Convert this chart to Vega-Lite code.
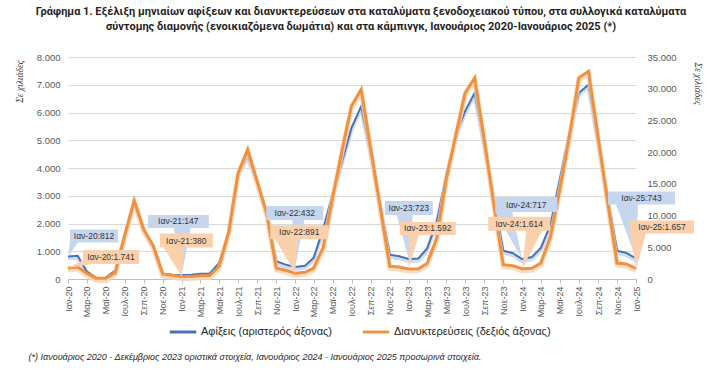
{
  "$schema": "https://vega.github.io/schema/vega-lite/v6.json",
  "width": 568,
  "height": 222,
  "autosize": {"type": "none"},
  "padding": {"left": 68, "top": 57, "right": 87, "bottom": 91},
  "background": "white",
  "title": {
    "text": [
      "Γράφημα 1. Εξέλιξη μηνιαίων αφίξεων και διανυκτερεύσεων στα καταλύματα ξενοδοχειακού τύπου, στα συλλογικά καταλύματα",
      "σύντομης διαμονής (ενοικιαζόμενα δωμάτια) και στα κάμπινγκ, Ιανουάριος 2020-Ιανουάριος 2025 (*)"
    ],
    "anchor": "middle",
    "frame": "group",
    "dx": 9,
    "offset": 20,
    "font": "Roboto",
    "fontSize": 11,
    "fontWeight": "bold",
    "color": "#1f1f1f",
    "lineHeight": 15
  },
  "datasets": {
    "monthly": [
      {"date": "2020-01-01", "arrivals": 812, "stays": 1741},
      {"date": "2020-02-01", "arrivals": 840, "stays": 1890},
      {"date": "2020-03-01", "arrivals": 276, "stays": 900},
      {"date": "2020-04-01", "arrivals": 40, "stays": 130},
      {"date": "2020-05-01", "arrivals": 40, "stays": 100},
      {"date": "2020-06-01", "arrivals": 300, "stays": 1000},
      {"date": "2020-07-01", "arrivals": 1560, "stays": 6800},
      {"date": "2020-08-01", "arrivals": 2780, "stays": 12350},
      {"date": "2020-09-01", "arrivals": 1780, "stays": 7780},
      {"date": "2020-10-01", "arrivals": 1200, "stays": 5250},
      {"date": "2020-11-01", "arrivals": 190, "stays": 800},
      {"date": "2020-12-01", "arrivals": 150, "stays": 600},
      {"date": "2021-01-01", "arrivals": 147, "stays": 380},
      {"date": "2021-02-01", "arrivals": 150, "stays": 380},
      {"date": "2021-03-01", "arrivals": 190, "stays": 520},
      {"date": "2021-04-01", "arrivals": 200, "stays": 540},
      {"date": "2021-05-01", "arrivals": 580, "stays": 2000},
      {"date": "2021-06-01", "arrivals": 1720, "stays": 7400},
      {"date": "2021-07-01", "arrivals": 3800, "stays": 16700},
      {"date": "2021-08-01", "arrivals": 4420, "stays": 20400},
      {"date": "2021-09-01", "arrivals": 3500, "stays": 15300},
      {"date": "2021-10-01", "arrivals": 2380, "stays": 10400},
      {"date": "2021-11-01", "arrivals": 640, "stays": 1730},
      {"date": "2021-12-01", "arrivals": 517, "stays": 1370},
      {"date": "2022-01-01", "arrivals": 432, "stays": 891},
      {"date": "2022-02-01", "arrivals": 480, "stays": 1050},
      {"date": "2022-03-01", "arrivals": 757, "stays": 1730},
      {"date": "2022-04-01", "arrivals": 1800, "stays": 5000},
      {"date": "2022-05-01", "arrivals": 3040, "stays": 12800},
      {"date": "2022-06-01", "arrivals": 4250, "stays": 20400},
      {"date": "2022-07-01", "arrivals": 5450, "stays": 27300},
      {"date": "2022-08-01", "arrivals": 6220, "stays": 29850},
      {"date": "2022-09-01", "arrivals": 4500, "stays": 20500},
      {"date": "2022-10-01", "arrivals": 2670, "stays": 11400},
      {"date": "2022-11-01", "arrivals": 877, "stays": 2000},
      {"date": "2022-12-01", "arrivals": 817, "stays": 1890},
      {"date": "2023-01-01", "arrivals": 723, "stays": 1592},
      {"date": "2023-02-01", "arrivals": 740, "stays": 1600},
      {"date": "2023-03-01", "arrivals": 1100, "stays": 2450},
      {"date": "2023-04-01", "arrivals": 2050, "stays": 6400},
      {"date": "2023-05-01", "arrivals": 3700, "stays": 15600},
      {"date": "2023-06-01", "arrivals": 5170, "stays": 22600},
      {"date": "2023-07-01", "arrivals": 6040, "stays": 29300},
      {"date": "2023-08-01", "arrivals": 6700, "stays": 31700},
      {"date": "2023-09-01", "arrivals": 4850, "stays": 22000},
      {"date": "2023-10-01", "arrivals": 2900, "stays": 12000},
      {"date": "2023-11-01", "arrivals": 1020, "stays": 2260},
      {"date": "2023-12-01", "arrivals": 937, "stays": 2100},
      {"date": "2024-01-01", "arrivals": 717, "stays": 1614},
      {"date": "2024-02-01", "arrivals": 790, "stays": 1680},
      {"date": "2024-03-01", "arrivals": 1120, "stays": 2520},
      {"date": "2024-04-01", "arrivals": 1950, "stays": 6700},
      {"date": "2024-05-01", "arrivals": 3580, "stays": 14100},
      {"date": "2024-06-01", "arrivals": 5260, "stays": 22500},
      {"date": "2024-07-01", "arrivals": 6700, "stays": 31700},
      {"date": "2024-08-01", "arrivals": 7000, "stays": 32740},
      {"date": "2024-09-01", "arrivals": 4960, "stays": 22440},
      {"date": "2024-10-01", "arrivals": 2990, "stays": 12450},
      {"date": "2024-11-01", "arrivals": 1020, "stays": 2520},
      {"date": "2024-12-01", "arrivals": 937, "stays": 2365},
      {"date": "2025-01-01", "arrivals": 743, "stays": 1657}
    ],
    "calloutsA": [
      {"date": "2020-01-01", "arrivals": 812, "label": "Ιαν-20:812"},
      {"date": "2021-01-01", "arrivals": 147, "label": "Ιαν-21:147"},
      {"date": "2022-01-01", "arrivals": 432, "label": "Ιαν-22:432"},
      {"date": "2023-01-01", "arrivals": 723, "label": "Ιαν-23:723"},
      {"date": "2024-01-01", "arrivals": 717, "label": "Ιαν-24:717"},
      {"date": "2025-01-01", "arrivals": 743, "label": "Ιαν-25:743"}
    ],
    "calloutsS": [
      {"date": "2020-01-01", "stays": 1741, "label": "Ιαν-20:1.741"},
      {"date": "2021-01-01", "stays": 380, "label": "Ιαν-21:380"},
      {"date": "2022-01-01", "stays": 891, "label": "Ιαν-22:891"},
      {"date": "2023-01-01", "stays": 1592, "label": "Ιαν-23:1.592"},
      {"date": "2024-01-01", "stays": 1614, "label": "Ιαν-24:1.614"},
      {"date": "2025-01-01", "stays": 1657, "label": "Ιαν-25:1.657"}
    ]
  },
  "data": {"name": "monthly"},
  "encoding": {
    "x": {
      "field": "date",
      "type": "temporal",
      "scale": {
        "type": "utc",
        "domain": [
          {"year": 2020, "month": 1, "date": 1, "utc": true},
          {"year": 2025, "month": 1, "date": 1, "utc": true}
        ],
        "nice": false
      },
      "axis": {
        "format": "%b-%y",
        "tickCount": {"interval": "month", "step": 2},
        "labelAngle": -90,
        "labelFont": "Liberation Sans",
        "labelFontSize": 9,
        "labelColor": "#595959",
        "labelPadding": 3,
        "labelFlush": false,
        "labelOverlap": false,
        "domainColor": "#bfbfbf",
        "tickColor": "#bfbfbf",
        "tickSize": 4,
        "grid": false,
        "title": "(*) Ιανουάριος 2020 - Δεκέμβριος 2023 οριστικά στοιχεία, Ιανουάριος 2024 - Ιανουάριος 2025 προσωρινά στοιχεία.",
        "titleFont": "Liberation Sans",
        "titleFontSize": 9,
        "titleFontStyle": "italic",
        "titleFontWeight": "normal",
        "titleColor": "#262626",
        "titleAnchor": "start",
        "titleAlign": "left",
        "titleBaseline": "alphabetic",
        "titleX": -40,
        "titleY": 80
      }
    }
  },
  "layer": [
    {
      "encoding": {
        "y": {
          "field": "arrivals",
          "type": "quantitative",
          "scale": {"domain": [0, 8000], "nice": false, "zero": true},
          "axis": {
            "orient": "left",
            "values": [0, 1000, 2000, 3000, 4000, 5000, 6000, 7000, 8000],
            "format": ",d",
            "grid": true,
            "gridColor": "#d9d9d9",
            "gridWidth": 1,
            "domain": false,
            "ticks": false,
            "labelPadding": 8,
            "labelFont": "Liberation Sans",
            "labelFontSize": 9.5,
            "labelColor": "#595959",
            "title": "Σε χιλιάδες",
            "titleFont": "Liberation Serif",
            "titleFontSize": 9.5,
            "titleFontStyle": "italic",
            "titleFontWeight": "normal",
            "titleColor": "#404040",
            "titleAngle": -90,
            "titleAlign": "right",
            "titleBaseline": "middle",
            "titleX": -49,
            "titleY": 3
          }
        }
      },
      "layer": [
        {
          "mark": {"type": "line", "color": "#c4d5ee", "strokeWidth": 4, "yOffset": 2, "opacity": 0.8}
        },
        {
          "mark": {"type": "line", "strokeWidth": 2},
          "encoding": {
            "color": {
              "datum": "Αφίξεις (αριστερός άξονας)",
              "type": "nominal",
              "scale": {
                "domain": ["Αφίξεις (αριστερός άξονας)", "Διανυκτερεύσεις (δεξιός άξονας)"],
                "range": ["#4a72b2", "#f0913f"]
              },
              "legend": {
                "orient": "none",
                "legendX": 100,
                "legendY": 260,
                "direction": "horizontal",
                "title": null,
                "symbolType": "stroke",
                "symbolSize": 700,
                "symbolStrokeWidth": 3,
                "labelFont": "Liberation Sans",
                "labelFontSize": 11,
                "labelColor": "#262626",
                "labelOffset": 3,
                "columnPadding": 24
              }
            }
          }
        }
      ]
    },
    {
      "encoding": {
        "y": {
          "field": "stays",
          "type": "quantitative",
          "scale": {"domain": [0, 35000], "nice": false, "zero": true},
          "axis": {
            "orient": "right",
            "values": [0, 5000, 10000, 15000, 20000, 25000, 30000, 35000],
            "format": ",d",
            "grid": false,
            "domain": false,
            "ticks": false,
            "labelPadding": 11,
            "labelFont": "Liberation Sans",
            "labelFontSize": 9.5,
            "labelColor": "#595959",
            "title": "Σε χιλιάδες",
            "titleFont": "Liberation Serif",
            "titleFontSize": 9.5,
            "titleFontStyle": "italic",
            "titleFontWeight": "normal",
            "titleColor": "#404040",
            "titleAngle": 90,
            "titleAlign": "left",
            "titleBaseline": "middle",
            "titleX": 61,
            "titleY": 5
          }
        }
      },
      "layer": [
        {
          "mark": {"type": "line", "color": "#fbd5b4", "strokeWidth": 5, "yOffset": 2, "opacity": 0.8}
        },
        {
          "mark": {"type": "line", "strokeWidth": 3},
          "encoding": {
            "color": {
              "datum": "Διανυκτερεύσεις (δεξιός άξονας)",
              "type": "nominal"
            }
          }
        }
      ]
    },
    {
      "data": {"name": "calloutsA"},
      "encoding": {
        "y": {
          "field": "arrivals",
          "type": "quantitative",
          "scale": {"domain": [0, 8000], "nice": false, "zero": true},
          "axis": null
        }
      },
      "layer": [
        {
          "mark": {"type": "point", "filled": true, "size": 4, "opacity": 1, "color": "#c5d6ee", "strokeWidth": 0},
          "encoding": {
            "shape": {
              "field": "label",
              "type": "nominal",
              "legend": null,
              "scale": {
                "domain": ["Ιαν-20:812", "Ιαν-21:147", "Ιαν-22:432", "Ιαν-23:723", "Ιαν-24:717", "Ιαν-25:743"],
                "range": [
                  "M2,-27H50V-14H10L0,0L2,-14Z",
                  "M-34,-60H27V-47H9L0,0L-8,-47H-34Z",
                  "M-29,-61H28V-47H9L0,0L-3,-47H-29Z",
                  "M-24,-58H24V-44H4L0,0L-12,-44H-24Z",
                  "M-27,-62H35V-47H-10L0,0L-27,-47Z",
                  "M-28,-67H39V-54H2L0,0L-20,-54H-28Z"
                ]
              }
            }
          }
        },
        {
          "mark": {
            "type": "text",
            "font": "Liberation Sans",
            "fontSize": 8.5,
            "color": "#333333",
            "align": "center",
            "baseline": "middle",
            "dx": {"expr": "[26,-3.5,-0.5,0,4,5.5][indexof(['Ιαν-20:812','Ιαν-21:147','Ιαν-22:432','Ιαν-23:723','Ιαν-24:717','Ιαν-25:743'], datum.label)]"},
            "dy": {"expr": "[-20.5,-53.5,-54,-51,-54.5,-60.5][indexof(['Ιαν-20:812','Ιαν-21:147','Ιαν-22:432','Ιαν-23:723','Ιαν-24:717','Ιαν-25:743'], datum.label)]"}
          },
          "encoding": {"text": {"field": "label", "type": "nominal"}}
        }
      ]
    },
    {
      "data": {"name": "calloutsS"},
      "encoding": {
        "y": {
          "field": "stays",
          "type": "quantitative",
          "scale": {"domain": [0, 35000], "nice": false, "zero": true},
          "axis": null
        }
      },
      "layer": [
        {
          "mark": {"type": "point", "filled": true, "size": 4, "opacity": 1, "color": "#fbd1ad", "strokeWidth": 0},
          "encoding": {
            "shape": {
              "field": "label",
              "type": "nominal",
              "legend": null,
              "scale": {
                "domain": ["Ιαν-20:1.741", "Ιαν-21:380", "Ιαν-22:891", "Ιαν-23:1.592", "Ιαν-24:1.614", "Ιαν-25:1.657"],
                "range": [
                  "M15,-18H71V-4H24L0,0L15,-8Z",
                  "M-22,-43H31V-29H2L0,0L-18,-29H-22Z",
                  "M-25,-48H33V-34H2L0,0L-20,-34H-25Z",
                  "M-9,-47H47V-34H10L0,0L0,-34H-9Z",
                  "M-34,-52H28V-38H20L0,0L4,-38H-34Z",
                  "M-6,-48H58V-35H10L0,0L-6,-35Z"
                ]
              }
            }
          }
        },
        {
          "mark": {
            "type": "text",
            "font": "Liberation Sans",
            "fontSize": 8.5,
            "color": "#333333",
            "align": "center",
            "baseline": "middle",
            "dx": {"expr": "[43,4.5,4,19,-3,26][indexof(['Ιαν-20:1.741','Ιαν-21:380','Ιαν-22:891','Ιαν-23:1.592','Ιαν-24:1.614','Ιαν-25:1.657'], datum.label)]"},
            "dy": {"expr": "[-11,-36,-41,-40.5,-45,-41.5][indexof(['Ιαν-20:1.741','Ιαν-21:380','Ιαν-22:891','Ιαν-23:1.592','Ιαν-24:1.614','Ιαν-25:1.657'], datum.label)]"}
          },
          "encoding": {"text": {"field": "label", "type": "nominal"}}
        }
      ]
    }
  ],
  "resolve": {"scale": {"y": "independent", "shape": "independent"}},
  "config": {
    "view": {"stroke": null},
    "locale": {
      "number": {"decimal": ",", "thousands": ".", "grouping": [3], "currency": ["", " €"]},
      "time": {
        "dateTime": "%A, %e %B %Y, %X",
        "date": "%d/%m/%Y",
        "time": "%H:%M:%S",
        "periods": ["πμ", "μμ"],
        "days": ["Κυριακή", "Δευτέρα", "Τρίτη", "Τετάρτη", "Πέμπτη", "Παρασκευή", "Σάββατο"],
        "shortDays": ["Κυρ", "Δευ", "Τρι", "Τετ", "Πεμ", "Παρ", "Σαβ"],
        "months": ["Ιανουάριος", "Φεβρουάριος", "Μάρτιος", "Απρίλιος", "Μάιος", "Ιούνιος", "Ιούλιος", "Αύγουστος", "Σεπτέμβριος", "Οκτώβριος", "Νοέμβριος", "Δεκέμβριος"],
        "shortMonths": ["Ιαν", "Φεβ", "Μαρ", "Απρ", "Μαϊ", "Ιουν", "Ιουλ", "Αυγ", "Σεπ", "Οκτ", "Νοε", "Δεκ"]
      }
    }
  }
}
